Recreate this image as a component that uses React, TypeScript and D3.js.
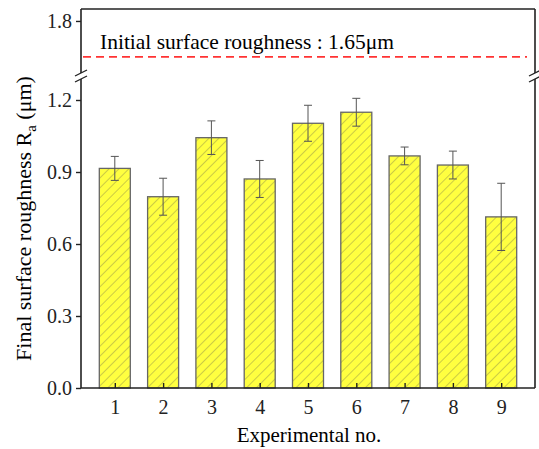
import React, { useEffect, useRef } from 'react';
import * as d3 from 'd3';

// experiment numbers, mean roughness and error (um)
const experiments = [1, 2, 3, 4, 5, 6, 7, 8, 9];
const roughness = [0.915, 0.797, 1.043, 0.871, 1.103, 1.149, 0.967, 0.929, 0.713];
const errors = [0.05, 0.077, 0.07, 0.077, 0.075, 0.058, 0.037, 0.058, 0.14];
const lowerTicks = [0, 0.3, 0.6, 0.9, 1.2];
const upperTicks = [1.8];
const initialRoughness = 1.65;

const W = 539;
const H = 449;
const left = 81;
const right = 535;
const top = 9;
const bottom = 388;
const breakY = 76;

function App() {
  const ref = useRef<SVGSVGElement>(null);

  useEffect(() => {
    const svg = d3.select(ref.current);
    svg.selectAll('*').remove();
    const font = "'Liberation Serif', 'DejaVu Serif', serif";

    const x = d3.scaleLinear().domain([0.3, 9.7]).range([left, right]);
    const yLow = d3.scaleLinear().domain([0, 1.3]).range([bottom, breakY]);
    const yHigh = d3.scaleLinear().domain([1.57, 1.85]).range([breakY, top]);
    const bw = 31;

    // hatch pattern
    const defs = svg.append('defs');
    const pat = defs.append('pattern')
      .attr('id', 'hatch')
      .attr('patternUnits', 'userSpaceOnUse')
      .attr('width', 7)
      .attr('height', 7)
      .attr('patternTransform', 'rotate(45)');
    pat.append('rect').attr('width', 7).attr('height', 7).attr('fill', '#ffff40');
    pat.append('line')
      .attr('x1', 0).attr('y1', 0).attr('x2', 0).attr('y2', 7)
      .attr('stroke', '#8c8c4a').attr('stroke-width', 0.9);

    // bars
    svg.selectAll('rect.bar')
      .data(experiments)
      .enter()
      .append('rect')
      .attr('class', 'bar')
      .attr('x', d => x(d) - bw / 2)
      .attr('y', (d, i) => yLow(roughness[i]))
      .attr('width', bw)
      .attr('height', (d, i) => bottom - yLow(roughness[i]))
      .attr('fill', 'url(#hatch)')
      .attr('stroke', '#666')
      .attr('stroke-width', 1.3);

    // error bars
    const eb = svg.append('g').attr('stroke', '#555').attr('stroke-width', 1).attr('fill', 'none');
    experiments.forEach((d, i) => {
      const cx = x(d);
      const y1 = yLow(roughness[i] + errors[i]);
      const y2 = yLow(roughness[i] - errors[i]);
      eb.append('line').attr('x1', cx).attr('x2', cx).attr('y1', y1).attr('y2', y2);
      eb.append('line').attr('x1', cx - 4).attr('x2', cx + 4).attr('y1', y1).attr('y2', y1);
      eb.append('line').attr('x1', cx - 4).attr('x2', cx + 4).attr('y1', y2).attr('y2', y2);
    });

    // initial roughness line
    svg.append('line')
      .attr('x1', left + 2).attr('x2', right - 8)
      .attr('y1', yHigh(initialRoughness)).attr('y2', yHigh(initialRoughness))
      .attr('stroke', '#ff3333').attr('stroke-width', 1.6)
      .attr('stroke-dasharray', '8,5');
    svg.append('text')
      .attr('x', 100).attr('y', yHigh(initialRoughness) - 8)
      .style('font-family', font).style('font-size', '21.5px')
      .text('Initial surface roughness : 1.65\u03bcm');

    // frame with breaks
    const frame = svg.append('g').attr('stroke', '#222').attr('stroke-width', 1.6).attr('fill', 'none');
    const gap = 3;
    frame.append('path').attr('d', `M${left},${bottom}L${right},${bottom}`);
    frame.append('path').attr('d', `M${left},${top}L${right},${top}`);
    frame.append('path').attr('d', `M${left},${bottom}L${left},${breakY + gap}M${left},${breakY - gap}L${left},${top}`);
    frame.append('path').attr('d', `M${right},${bottom}L${right},${breakY + gap}M${right},${breakY - gap}L${right},${top}`);
    [left, right].forEach(px => {
      [-gap, gap].forEach(off => {
        frame.append('line')
          .attr('x1', px - 6).attr('x2', px + 6)
          .attr('y1', breakY + off + 3).attr('y2', breakY + off - 3)
          .attr('stroke-width', 1.3);
      });
    });

    // y axis ticks
    const yAxisLow = svg.append('g')
      .attr('transform', `translate(${left},0)`)
      .call(d3.axisLeft(yLow).tickValues(lowerTicks).tickSize(5).tickPadding(4).tickFormat(d3.format('.1f')));
    const yAxisHigh = svg.append('g')
      .attr('transform', `translate(${left},0)`)
      .call(d3.axisLeft(yHigh).tickValues(upperTicks).tickSize(5).tickPadding(4).tickFormat(d3.format('.1f')));
    [yAxisLow, yAxisHigh].forEach(g => {
      g.select('.domain').remove();
      g.attr('font-family', null).attr('font-size', null);
      g.selectAll('line').attr('stroke', '#222').attr('stroke-width', 1.4);
      g.selectAll('text').style('font-family', font).style('font-size', '20px').attr('fill', '#222');
    });

    // x axis ticks (inward)
    const xAxis = svg.append('g')
      .attr('transform', `translate(0,${bottom})`)
      .call(d3.axisBottom(x).tickValues(experiments).tickSize(-5).tickPadding(12).tickFormat(d3.format('d')));
    xAxis.select('.domain').remove();
    xAxis.attr('font-family', null).attr('font-size', null);
    xAxis.selectAll('line').attr('stroke', '#222').attr('stroke-width', 1.4);
    xAxis.selectAll('text').style('font-family', font).style('font-size', '20px').attr('fill', '#222');

    // axis titles
    svg.append('text')
      .attr('x', (left + right) / 2 + 1).attr('y', 442)
      .attr('text-anchor', 'middle')
      .style('font-family', font).style('font-size', '21px')
      .text('Experimental no.');

    const yt = svg.append('text')
      .attr('transform', `translate(31,${(top + bottom) / 2 + 20}) rotate(-90)`)
      .attr('text-anchor', 'middle')
      .style('font-family', font).style('font-size', '22px');
    yt.append('tspan').text('Final surface roughness R');
    yt.append('tspan').attr('dy', 5).style('font-size', '15px').text('a');
    yt.append('tspan').attr('dy', -5).text(' (\u03bcm)');
  }, []);

  return (
    <svg ref={ref} width={W} height={H} style={{ position: 'absolute', left: 0, top: 0, background: '#fff' }} />
  );
}

export default App;
